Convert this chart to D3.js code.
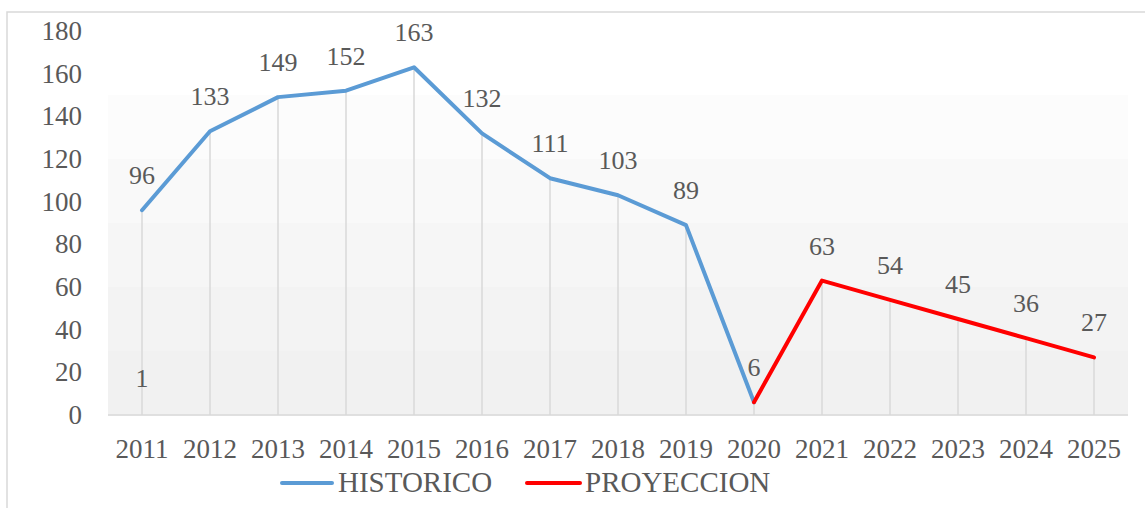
<!DOCTYPE html>
<html>
<head>
<meta charset="utf-8">
<script src="https://cdn.jsdelivr.net/npm/d3@7"></script>
</head>
<body style="margin:0">
<div id="root"></div>
<script>
// data
const years = [2011, 2012, 2013, 2014, 2015, 2016, 2017, 2018, 2019, 2020, 2021, 2022, 2023, 2024, 2025];
const historico = [96, 133, 149, 152, 163, 132, 111, 103, 89, 6];
const proyeccionYears = [2020, 2021, 2022, 2023, 2024, 2025];
const proyeccion = [6, 63, 54, 45, 36, 27];
const strayYears = [2011];
const strayValues = [1];
const yTicks = [0, 20, 40, 60, 80, 100, 120, 140, 160, 180];

const width = 1145;
const height = 508;
const serif = "Times New Roman";
const textColor = "#595959";

//create svg canvas
const svg = d3.select("#root")
  .append("svg")
  .attr("width", width)
  .attr("height", height);

// outer chart frame (cut off at right and bottom)
svg.append("rect")
  .attr("x", 7).attr("y", 12)
  .attr("width", 1200).attr("height", 600)
  .attr("fill", "none")
  .attr("stroke", "#d9d9d9")
  .attr("stroke-width", 1.5);

//scales
const xScale = d3.scaleBand()
  .domain(years)
  .range([108, 1128]);

const yScale = d3.scaleLinear()
  .domain([0, 180])
  .range([415, 31]);

const cx = (y) => xScale(y) + xScale.bandwidth() / 2;

// plot area background: light grey fading in toward the bottom
const shades = ["#ffffff", "#fcfcfc", "#f9f9f9", "#f6f6f6", "#f3f3f3", "#f1f1f1"];
const bandH = (yScale(0) - yScale(180)) / shades.length;
svg.selectAll(".bg")
  .data(shades)
  .enter()
  .append("rect")
  .attr("class", "bg")
  .attr("x", xScale.range()[0])
  .attr("y", (d, i) => yScale(180) + i * bandH)
  .attr("width", xScale.range()[1] - xScale.range()[0])
  .attr("height", bandH + 0.5)
  .attr("fill", d => d);

// y axis labels
const gy = svg.append("g");
gy.selectAll("text")
  .data(yTicks)
  .enter()
  .append("text")
  .attr("x", 82)
  .attr("y", d => yScale(d) + 9)
  .attr("text-anchor", "end")
  .attr("fill", textColor)
  .attr("font-family", serif)
  .attr("font-size", 27)
  .text(d => d);

// x axis line and labels
svg.append("line")
  .attr("x1", xScale.range()[0]).attr("x2", xScale.range()[1])
  .attr("y1", yScale(0)).attr("y2", yScale(0))
  .attr("stroke", "#d9d9d9").attr("stroke-width", 1.5);

const gx = svg.append("g");
gx.selectAll("text")
  .data(years)
  .enter()
  .append("text")
  .attr("x", d => cx(d))
  .attr("y", yScale(0) + 43)
  .attr("text-anchor", "middle")
  .attr("fill", textColor)
  .attr("font-family", serif)
  .attr("font-size", 27)
  .text(d => d);

// drop lines from each point
const allPoints = years.map(function(y, i) {
  const pi = proyeccionYears.indexOf(y);
  const v = i < historico.length ? historico[i] : proyeccion[pi];
  return { year: y, value: v };
});

svg.selectAll(".drop")
  .data(allPoints)
  .enter()
  .append("line")
  .attr("class", "drop")
  .attr("x1", d => cx(d.year))
  .attr("x2", d => cx(d.year))
  .attr("y1", d => yScale(d.value))
  .attr("y2", yScale(0))
  .attr("stroke", "#d9d9d9")
  .attr("stroke-width", 1.5);

// lines
const line = d3.line()
  .x(d => cx(d.year))
  .y(d => yScale(d.value));

const histData = historico.map((v, i) => ({ year: years[i], value: v }));
const projData = proyeccion.map((v, i) => ({ year: proyeccionYears[i], value: v }));

svg.append("path")
  .datum(histData)
  .attr("d", line)
  .attr("fill", "none")
  .attr("stroke", "#5b9bd5")
  .attr("stroke-width", 4)
  .attr("stroke-linejoin", "round")
  .attr("stroke-linecap", "round");

svg.append("path")
  .datum(projData)
  .attr("d", line)
  .attr("fill", "none")
  .attr("stroke", "#ff0000")
  .attr("stroke-width", 4)
  .attr("stroke-linejoin", "round")
  .attr("stroke-linecap", "round");

// data labels
const labelData = histData.concat(projData.slice(1))
  .concat(strayValues.map((v, i) => ({ year: strayYears[i], value: v })));

svg.selectAll(".lbl")
  .data(labelData)
  .enter()
  .append("text")
  .attr("class", "lbl")
  .attr("x", d => cx(d.year))
  .attr("y", d => yScale(d.value) - 26)
  .attr("text-anchor", "middle")
  .attr("fill", textColor)
  .attr("font-family", serif)
  .attr("font-size", 26)
  .text(d => d.value);

// legend
const legend = svg.append("g");
legend.append("line")
  .attr("x1", 282).attr("x2", 332)
  .attr("y1", 483).attr("y2", 483)
  .attr("stroke", "#5b9bd5").attr("stroke-width", 4)
  .attr("stroke-linecap", "round");
legend.append("text")
  .attr("x", 338).attr("y", 492)
  .attr("fill", textColor)
  .attr("font-family", serif)
  .attr("font-size", 29)
  .text("HISTORICO");
legend.append("line")
  .attr("x1", 527).attr("x2", 580)
  .attr("y1", 483).attr("y2", 483)
  .attr("stroke", "#ff0000").attr("stroke-width", 4)
  .attr("stroke-linecap", "round");
legend.append("text")
  .attr("x", 585).attr("y", 492)
  .attr("fill", textColor)
  .attr("font-family", serif)
  .attr("font-size", 29)
  .text("PROYECCION");
</script>
</body>
</html>
